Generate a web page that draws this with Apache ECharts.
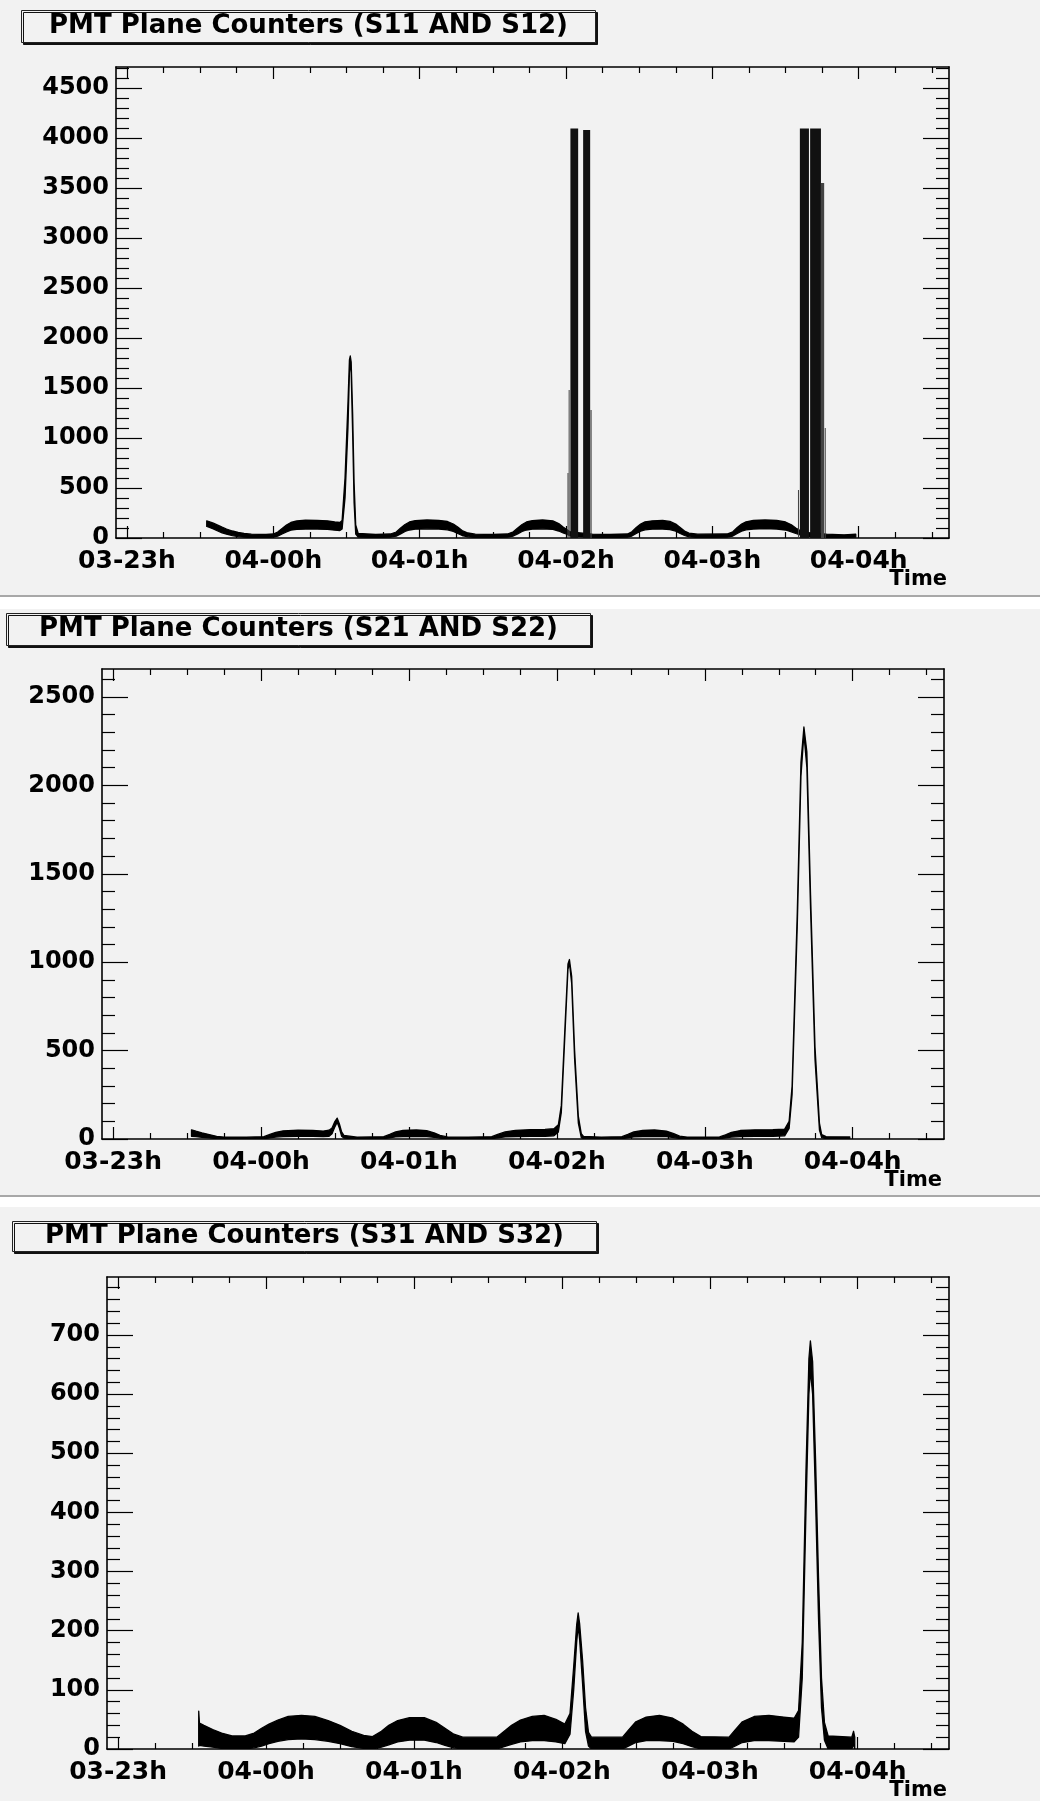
<!DOCTYPE html>
<html><head><meta charset="utf-8">
<script src="https://cdn.jsdelivr.net/npm/echarts@6/dist/echarts.min.js"></script>
<style>html,body{margin:0;padding:0;background:#fff}#c{width:1040px;height:1801px}</style>
</head><body><div id="c"></div>
<script>
// ---- axis ticks / labels ----
const hourTicks = [0, 1, 2, 3, 4, 5];
const hourLabels = ['03-23h', '04-00h', '04-01h', '04-02h', '04-03h', '04-04h'];
const timeMin = -0.075, timeMax = 5.617;   // hours after 03-23h

const titles = ['PMT Plane Counters (S11 AND S12)', 'PMT Plane Counters (S21 AND S22)', 'PMT Plane Counters (S31 AND S32)'];
const yMaxes = [4710, 2658, 798];
const yMajor1 = [0, 500, 1000, 1500, 2000, 2500, 3000, 3500, 4000, 4500];
const yMajor2 = [0, 500, 1000, 1500, 2000, 2500];
const yMajor3 = [0, 100, 200, 300, 400, 500, 600, 700];
const yMinorStep = [100, 100, 20];

// ---- panel 1: S11 AND S12 (low / high edge of the noisy trace) ----
const p1Time = [0.545,0.56,0.59,0.62,0.65,0.68,0.72,0.76,0.80,0.85,0.95,1.00,1.03,1.06,1.09,1.12,1.16,1.22,1.30,1.37,1.42,1.455,1.47,1.49,1.51,1.52,1.526,1.532,1.542,1.552,1.563,1.58,1.70,1.80,1.84,1.87,1.90,1.93,1.97,2.05,2.13,2.19,2.23,2.26,2.29,2.33,2.38,2.50,2.60,2.64,2.67,2.70,2.73,2.77,2.84,2.91,2.95,2.98,3.00,3.03,3.18,3.30,3.42,3.45,3.48,3.51,3.54,3.59,3.66,3.71,3.75,3.78,3.81,3.84,3.90,4.10,4.14,4.17,4.20,4.23,4.28,4.36,4.44,4.50,4.54,4.57,4.60,4.63,4.78,4.90,4.98];
const p1Low  = [115,108,90,70,52,38,24,14,8,5,5,8,18,40,62,78,86,90,90,86,78,75,90,400,1100,1650,1780,1650,1050,350,40,10,5,8,18,40,65,80,88,92,90,82,65,45,25,12,5,5,8,20,42,65,80,88,92,86,70,50,40,20,5,5,8,20,45,68,82,88,90,84,68,45,25,12,5,8,20,45,68,82,90,93,90,80,62,45,30,20,5,5,8];
const p1High = [172,165,148,128,108,90,70,55,45,38,35,40,60,95,130,155,170,178,177,172,160,155,175,600,1350,1780,1820,1760,1250,550,130,45,35,40,60,100,135,160,174,180,177,165,140,110,75,50,38,35,40,62,100,135,160,174,180,172,145,110,90,60,38,35,40,62,105,140,162,172,175,166,140,105,70,48,38,40,62,105,140,162,175,180,176,160,132,100,75,55,38,32,38];
// saturated read-out columns (start hour, end hour, top count)
const p1ColStart = [3.010, 3.018, 3.030, 3.117, 3.167, 4.585, 4.598, 4.668, 4.742, 4.768];
const p1ColEnd   = [3.014, 3.023, 3.083, 3.165, 3.175, 4.592, 4.660, 4.742, 4.764, 4.774];
const p1ColTop   = [650, 1480, 4095, 4080, 1280, 480, 4095, 4095, 3550, 1100];

// ---- panel 2: S21 AND S22 ----
const p2Time = [0.53,0.56,0.60,0.65,0.70,0.75,0.90,1.02,1.06,1.10,1.15,1.25,1.35,1.42,1.46,1.48,1.50,1.515,1.53,1.545,1.56,1.65,1.83,1.87,1.91,1.96,2.05,2.12,2.17,2.21,2.26,2.40,2.56,2.60,2.65,2.72,2.82,2.92,2.98,3.01,3.03,3.055,3.075,3.085,3.10,3.12,3.145,3.165,3.18,3.30,3.44,3.48,3.52,3.58,3.66,3.74,3.79,3.83,3.88,4.10,4.14,4.18,4.24,4.34,4.46,4.54,4.57,4.59,4.625,4.65,4.67,4.69,4.715,4.745,4.775,4.79,4.82,4.98];
const p2Low  = [15,13,10,6,2,0,0,2,6,11,14,15,15,13,15,30,70,95,60,15,5,0,2,7,12,14,15,14,10,5,0,0,2,7,12,14,15,15,18,40,150,600,960,995,880,450,90,8,2,0,2,7,12,14,15,13,8,3,0,2,6,11,14,15,15,18,60,250,1200,2050,2290,2100,1300,450,50,8,2,2];
const p2High = [52,44,35,25,15,11,10,13,26,38,46,50,49,45,50,62,100,118,85,40,20,10,13,26,40,48,51,47,35,20,12,10,13,26,40,49,53,54,58,80,190,640,990,1015,920,500,130,30,15,10,13,26,40,48,51,45,30,16,11,12,24,38,48,52,53,56,100,300,1280,2130,2330,2190,1380,520,90,25,13,12];

// ---- panel 3: S31 AND S32 ----
const p3Time = [0.545,0.55,0.58,0.64,0.70,0.77,0.86,0.92,0.97,1.02,1.08,1.15,1.24,1.33,1.42,1.50,1.58,1.66,1.72,1.78,1.83,1.89,1.97,2.07,2.15,2.21,2.27,2.33,2.56,2.61,2.66,2.72,2.80,2.88,2.96,3.02,3.055,3.08,3.10,3.11,3.12,3.14,3.16,3.18,3.20,3.41,3.45,3.50,3.57,3.66,3.75,3.82,3.88,3.94,4.13,4.17,4.22,4.30,4.40,4.50,4.57,4.60,4.625,4.65,4.67,4.68,4.695,4.715,4.735,4.755,4.775,4.80,4.96,4.972,4.98];
const p3Low  = [5,6,5,3,1,0,0,2,5,9,13,16,17,16,13,9,4,1,0,3,7,12,15,15,11,6,2,0,0,4,8,12,14,14,12,9,25,100,180,208,185,110,30,5,0,0,5,11,14,14,13,9,4,0,0,5,11,14,14,13,12,20,120,400,600,640,600,420,220,70,15,0,0,8,0];
const p3High = [64,44,40,33,27,22,22,27,35,42,49,55,57,55,48,40,30,23,21,30,40,48,53,53,45,35,25,20,20,30,40,49,55,57,50,42,60,140,210,230,212,150,70,28,20,20,32,46,54,57,52,42,30,21,20,32,46,55,57,54,52,65,180,470,660,690,655,490,290,120,45,22,20,30,20];

const FONT = 'DejaVu Sans';
const BG = '#f2f2f2';

// ---- layout of the three frames ----
const grids = [
  { left: 116, top: 67, width: 833, height: 471 },
  { left: 102, top: 669, width: 842, height: 470 },
  { left: 107, top: 1277, width: 842, height: 474 }
];
const titleBoxes = [
  { left: 21, top: 10, pad: [3, 28, 3, 28] },
  { left: 6, top: 613, pad: [3, 33, 3, 33] },
  { left: 12, top: 1221, pad: [2, 33, 2, 33] }
];
const yMajors = [yMajor1, yMajor2, yMajor3];

function range(a, b, s, skip) {
  const out = [];
  for (let v = a; v <= b + 1e-9; v += s) {
    const r = Math.round(v * 1000) / 1000;
    if (!skip.some(k => Math.abs(k - r) < 1e-6)) out.push(r);
  }
  return out;
}
const xMinor = range(0, 5.5, 0.25, hourTicks);

const lineStyle = { color: '#000', width: 1.6 };
const tickStyle = { color: '#000', width: 1.2 };
const labelStyle = { fontFamily: FONT, fontWeight: 'bold', color: '#000' };

const xAxes = [], yAxes = [], series = [], titleOpts = [];
grids.forEach((g, p) => {
  const base = { gridIndex: p, type: 'value', min: timeMin, max: timeMax, splitLine: { show: false } };
  xAxes.push(Object.assign({}, base, {
    position: 'bottom',
    axisLine: { show: true, onZero: false, lineStyle },
    axisTick: { show: true, inside: true, length: 12, customValues: hourTicks, lineStyle: tickStyle },
    axisLabel: Object.assign({ show: true, customValues: hourTicks, margin: 11, fontSize: 25,
      formatter: v => hourLabels[hourTicks.indexOf(Math.round(v))] }, labelStyle),
    name: 'Time', nameLocation: 'end', nameGap: 0, nameMoveOverlap: false,
    nameTextStyle: { fontFamily: FONT, fontWeight: 'bold', fontSize: 21, color: '#000',
      align: 'right', verticalAlign: 'top', padding: [31, 2, 0, 0] }
  }));
  xAxes.push(Object.assign({}, base, {
    position: 'bottom', axisLine: { show: false, onZero: false },
    axisTick: { show: true, inside: true, length: 6, customValues: xMinor, lineStyle: tickStyle },
    axisLabel: { show: false }
  }));
  xAxes.push(Object.assign({}, base, {
    position: 'top', axisLine: { show: true, onZero: false, lineStyle },
    axisTick: { show: true, inside: true, length: 12, customValues: hourTicks, lineStyle: tickStyle },
    axisLabel: { show: false }
  }));
  xAxes.push(Object.assign({}, base, {
    position: 'top', axisLine: { show: false, onZero: false },
    axisTick: { show: true, inside: true, length: 6, customValues: xMinor, lineStyle: tickStyle },
    axisLabel: { show: false }
  }));

  const yMax = yMaxes[p];
  const majors = yMajors[p];
  const minors = range(0, yMax, yMinorStep[p], majors).filter(v => v < yMax);
  const yb = { gridIndex: p, type: 'value', min: 0, max: yMax, splitLine: { show: false } };
  yAxes.push(Object.assign({}, yb, {
    position: 'left', axisLine: { show: true, onZero: false, lineStyle },
    axisTick: { show: true, inside: true, length: 26, customValues: majors, lineStyle: tickStyle },
    axisLabel: Object.assign({ show: true, customValues: majors, margin: 7, fontSize: 24,
      formatter: v => String(Math.round(v)) }, labelStyle)
  }));
  yAxes.push(Object.assign({}, yb, {
    position: 'left', axisLine: { show: false, onZero: false },
    axisTick: { show: true, inside: true, length: 13, customValues: minors, lineStyle: tickStyle },
    axisLabel: { show: false }
  }));
  yAxes.push(Object.assign({}, yb, {
    position: 'right', axisLine: { show: true, onZero: false, lineStyle },
    axisTick: { show: true, inside: true, length: 26, customValues: majors, lineStyle: tickStyle },
    axisLabel: { show: false }
  }));
  yAxes.push(Object.assign({}, yb, {
    position: 'right', axisLine: { show: false, onZero: false },
    axisTick: { show: true, inside: true, length: 13, customValues: minors, lineStyle: tickStyle },
    axisLabel: { show: false }
  }));

  const tb = titleBoxes[p];
  titleOpts.push({
    text: titles[p], left: tb.left, top: tb.top, padding: tb.pad,
    backgroundColor: BG, borderColor: '#222', borderWidth: 1,
    shadowColor: '#111', shadowOffsetX: 2, shadowOffsetY: 2, shadowBlur: 0,
    textStyle: { fontFamily: FONT, fontWeight: 'bold', fontSize: 26, lineHeight: 27, color: '#000' }
  });
});

function bandSeries(p, t, lo, hi) {
  return {
    type: 'custom', xAxisIndex: p * 4, yAxisIndex: p * 4, silent: true, clip: true,
    data: t.map((x, i) => [x, lo[i], hi[i]]),
    renderItem: function (params, api) {
      if (params.dataIndex !== 0) return null;
      const up = [], dn = [];
      for (let i = 0; i < t.length; i++) {
        up.push(api.coord([t[i], hi[i]]));
        dn.push(api.coord([t[i], lo[i]]));
      }
      return { type: 'polygon', shape: { points: up.concat(dn.reverse()) },
        style: { fill: '#000', stroke: '#000', lineWidth: 1.3, lineJoin: 'round' } };
    }
  };
}
function columnSeries(p, s, e, top) {
  return {
    type: 'custom', xAxisIndex: p * 4, yAxisIndex: p * 4, silent: true, clip: true,
    data: s.map((x, i) => [x, e[i], top[i]]),
    renderItem: function (params, api) {
      const a = api.coord([api.value(0), api.value(2)]);
      const b = api.coord([api.value(1), 0]);
      const dense = api.value(2) >= 4000;
      return { type: 'rect', shape: { x: a[0], y: a[1], width: Math.max(1, b[0] - a[0]), height: b[1] - a[1] },
        style: { fill: dense ? '#111' : '#444' } };
    }
  };
}
series.push(bandSeries(0, p1Time, p1Low, p1High));
series.push(columnSeries(0, p1ColStart, p1ColEnd, p1ColTop));
series.push(bandSeries(1, p2Time, p2Low, p2High));
series.push(bandSeries(2, p3Time, p3Low, p3High));

const chart = echarts.init(document.getElementById('c'), null, { renderer: 'canvas' });
chart.setOption({
  backgroundColor: BG,
  animation: false,
  title: titleOpts,
  grid: grids,
  xAxis: xAxes,
  yAxis: yAxes,
  series: series,
  graphic: [
    { type: 'rect', shape: { x: 0, y: 595, width: 1040, height: 2 }, style: { fill: '#a8a8a8' }, silent: true },
    { type: 'rect', shape: { x: 0, y: 597, width: 1040, height: 12 }, style: { fill: '#ffffff' }, silent: true },
    { type: 'rect', shape: { x: 0, y: 1195, width: 1040, height: 2 }, style: { fill: '#a8a8a8' }, silent: true },
    { type: 'rect', shape: { x: 0, y: 1197, width: 1040, height: 10 }, style: { fill: '#ffffff' }, silent: true }
  ]
});
</script>
</body></html>
